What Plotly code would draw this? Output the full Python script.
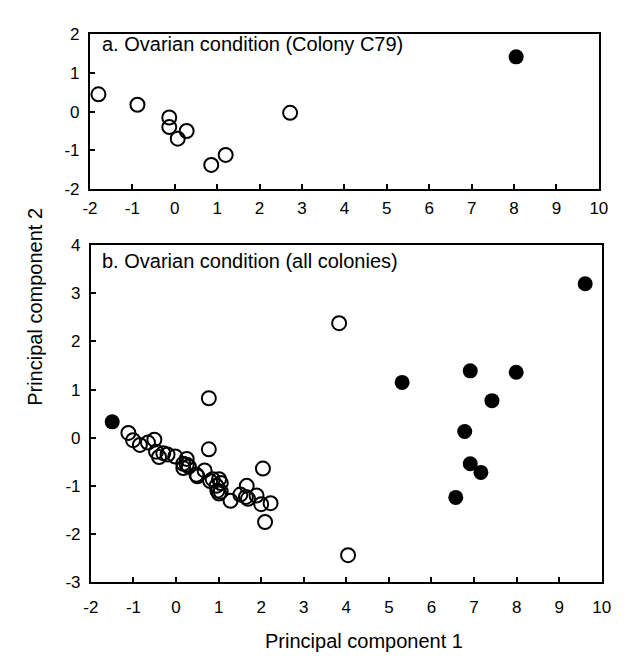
import plotly.graph_objects as go

# Panel a: Colony C79
a_open_pc1 = [-1.8, -0.88, -0.13, -0.13, 0.07, 0.28, 0.86, 1.2, 2.72]
a_open_pc2 = [0.45, 0.18, -0.15, -0.4, -0.7, -0.5, -1.38, -1.12, -0.03]
a_fill_pc1 = [8.05]
a_fill_pc2 = [1.42]

# Panel b: all colonies
b_open_pc1 = [-1.12, -1.01, -0.85, -0.66, -0.51, -0.47, -0.40, -0.30, -0.20, -0.02,
              0.25, 0.17, 0.25, 0.17, 0.30, 0.48, 0.50, 0.67, 0.77, 0.77,
              0.80, 0.86, 0.95, 1.01, 1.05, 0.97, 1.01, 1.05, 1.28, 1.51,
              1.66, 1.64, 1.69, 1.89, 2.04, 2.00, 2.22, 2.09, 3.83, 4.04]
b_open_pc2 = [0.10, -0.05, -0.15, -0.10, -0.04, -0.29, -0.40, -0.32, -0.35, -0.39,
              -0.44, -0.54, -0.56, -0.63, -0.60, -0.77, -0.80, -0.68, -0.24, 0.82,
              -0.90, -0.86, -1.00, -0.86, -0.94, -1.10, -1.16, -1.12, -1.31, -1.18,
              -1.00, -1.23, -1.27, -1.20, -0.64, -1.38, -1.36, -1.75, 2.38, -2.44]
b_fill_pc1 = [-1.5, 5.31, 6.91, 7.99, 7.42, 9.61, 6.78, 6.91, 7.16, 6.57]
b_fill_pc2 = [0.33, 1.15, 1.39, 1.36, 0.77, 3.2, 0.13, -0.54, -0.72, -1.24]

x_ticks = list(range(-2, 11))
x_tick_text = [str(v) for v in x_ticks]
a_y_ticks = [-2, -1, 0, 1, 2]
a_y_tick_text = [str(v) for v in a_y_ticks]
b_y_ticks = [-3, -2, -1, 0, 1, 2, 3, 4]
b_y_tick_text = [str(v) for v in b_y_ticks]

FONT = "Liberation Sans, Arial, Helvetica, sans-serif"
W, H = 631, 656

open_marker = dict(symbol="circle-open", size=14, color="black", line=dict(width=2, color="black"))
fill_marker = dict(symbol="circle", size=15, color="black", line=dict(width=0))

fig = go.Figure()
fig.add_trace(go.Scatter(x=a_open_pc1, y=a_open_pc2, mode="markers", marker=open_marker,
                         xaxis="x", yaxis="y", showlegend=False))
fig.add_trace(go.Scatter(x=a_fill_pc1, y=a_fill_pc2, mode="markers", marker=fill_marker,
                         xaxis="x", yaxis="y", showlegend=False))
fig.add_trace(go.Scatter(x=b_open_pc1, y=b_open_pc2, mode="markers", marker=open_marker,
                         xaxis="x2", yaxis="y2", showlegend=False))
fig.add_trace(go.Scatter(x=b_fill_pc1, y=b_fill_pc2, mode="markers", marker=fill_marker,
                         xaxis="x2", yaxis="y2", showlegend=False))

def px_x(p):
    return p / W

def px_y(p):
    return 1 - p / H

axis_common = dict(showgrid=False, zeroline=False, showline=True, linecolor="black",
                   linewidth=2, mirror=True, ticks="inside", ticklen=5, tickwidth=1.5,
                   tickcolor="black", tickfont=dict(family=FONT, size=17, color="black"))

fig.update_layout(
    width=W, height=H,
    margin=dict(l=0, r=0, t=0, b=0),
    paper_bgcolor="white", plot_bgcolor="white",
    font=dict(family=FONT, color="black"),
    xaxis=dict(domain=[px_x(76), px_x(599)], range=[-2, 10], tickvals=x_ticks,
               ticktext=x_tick_text, anchor="y", ticklabelstandoff=3, **axis_common),
    yaxis=dict(domain=[px_y(177), px_y(18)], range=[-2, 2], tickvals=a_y_ticks,
               ticktext=a_y_tick_text, anchor="x", ticklabelstandoff=5, **axis_common),
    xaxis2=dict(domain=[px_x(77), px_x(602)], range=[-2, 10], tickvals=x_ticks,
                ticktext=x_tick_text, anchor="y2", ticklabelstandoff=8, **axis_common),
    yaxis2=dict(domain=[px_y(582), px_y(235)], range=[-3, 4], tickvals=b_y_ticks,
                ticktext=b_y_tick_text, anchor="x2", ticklabelstandoff=5, **axis_common),
    annotations=[
        dict(text="a. Ovarian condition (Colony C79)", xref="paper", yref="paper",
             x=px_x(86), y=px_y(28), xanchor="left", yanchor="middle", showarrow=False,
             font=dict(family=FONT, size=20, color="black")),
        dict(text="b. Ovarian condition (all colonies)", xref="paper", yref="paper",
             x=px_x(86), y=px_y(251), xanchor="left", yanchor="middle", showarrow=False,
             font=dict(family=FONT, size=20, color="black")),
        dict(text="Principal component 1", xref="paper", yref="paper",
             x=px_x(358), y=px_y(643), xanchor="center", yanchor="middle", showarrow=False,
             font=dict(family=FONT, size=20, color="black")),
        dict(text="Principal component 2", xref="paper", yref="paper",
             x=px_x(20), y=px_y(298), xanchor="center", yanchor="middle", showarrow=False,
             textangle=-90, font=dict(family=FONT, size=20, color="black")),
    ],
)

fig.write_html("out.html")
